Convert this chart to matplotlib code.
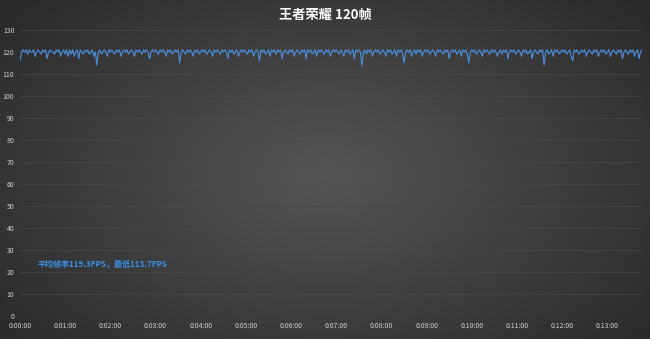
import numpy as np
import matplotlib.pyplot as plt

plt.rcParams['font.family'] = ['Noto Sans CJK SC', 'DejaVu Sans']

title = "王者荣耀 120帧"
note = "平均帧率119.3FPS，最低113.7FPS"

# fps samples, one every 2 seconds, grouped per minute
m0 = [116, 120, 121, 120, 121, 119, 121, 120, 120, 121, 118, 120, 121, 120, 119, 121, 120, 121, 117, 120, 121, 120, 120, 119, 121, 120, 121, 118, 120, 121]
m1 = [119, 121, 118, 121, 119, 121, 118, 120, 121, 117, 121, 120, 119, 121, 120, 121, 119, 120, 121, 118, 120, 114, 120, 121, 119, 120, 121, 120, 118, 121]
m2 = [120, 121, 120, 119, 121, 120, 121, 118, 120, 121, 120, 121, 119, 120, 121, 120, 118, 121, 120, 121, 120, 119, 121, 120, 121, 120, 117, 120, 121, 120]
m3 = [121, 120, 119, 121, 120, 121, 120, 118, 121, 120, 121, 119, 120, 121, 120, 121, 115, 120, 121, 120, 119, 121, 120, 121, 120, 118, 121, 120, 121, 119]
m4 = [120, 121, 120, 121, 119, 120, 121, 120, 118, 121, 120, 121, 120, 119, 121, 120, 121, 120, 117, 121, 120, 121, 119, 120, 121, 118, 120, 121, 120, 121]
m5 = [120, 119, 121, 120, 121, 118, 120, 121, 120, 116, 121, 120, 121, 119, 120, 121, 118, 121, 120, 121, 119, 121, 120, 121, 117, 120, 121, 120, 119, 121]
m6 = [120, 121, 118, 120, 121, 120, 119, 121, 120, 121, 117, 121, 120, 121, 119, 120, 121, 118, 121, 120, 121, 120, 119, 121, 120, 121, 118, 120, 121, 120]
m7 = [121, 120, 119, 121, 120, 118, 121, 120, 121, 119, 120, 121, 117, 121, 120, 121, 120, 113.7, 120, 121, 119, 121, 120, 121, 118, 120, 121, 120, 121, 119]
m8 = [120, 121, 120, 118, 121, 120, 121, 119, 120, 121, 118, 121, 120, 121, 119, 115, 120, 121, 120, 121, 118, 120, 121, 119, 121, 120, 121, 118, 120, 121]
m9 = [120, 121, 119, 120, 121, 120, 118, 121, 120, 121, 120, 119, 121, 120, 121, 117, 120, 121, 120, 121, 119, 120, 121, 118, 121, 120, 121, 119, 115, 120]
m10 = [121, 120, 121, 119, 120, 121, 120, 118, 121, 120, 121, 120, 119, 121, 120, 121, 120, 118, 120, 121, 119, 121, 120, 121, 117, 120, 121, 120, 121, 119]
m11 = [120, 121, 120, 118, 121, 120, 121, 119, 120, 121, 117, 120, 121, 120, 119, 121, 120, 121, 114, 120, 121, 119, 120, 121, 118, 121, 120, 121, 119, 120]
m12 = [121, 120, 121, 119, 120, 121, 118, 116, 121, 120, 121, 119, 120, 121, 120, 121, 118, 120, 121, 120, 119, 121, 120, 121, 118, 120, 121, 120, 121, 119]
m13 = [120, 121, 118, 120, 121, 120, 119, 121, 120, 121, 117, 120, 121, 120, 119, 121, 120, 121, 118, 120, 121, 117, 120, 121]

fps = np.array(m0 + m1 + m2 + m3 + m4 + m5 + m6 + m7 + m8 + m9 + m10 + m11 + m12 + m13)
t = np.arange(len(fps)) * 2

minutes = list(range(14))
tick_labels = ["0:%02d:00" % m for m in minutes]

fig = plt.figure(figsize=(6.5, 3.39), dpi=100)

# radial dark background
bg = fig.add_axes([0, 0, 1, 1], zorder=-1)
yy, xx = np.mgrid[0:339, 0:650]
r = np.sqrt(((xx - 325) / 420.0) ** 2 + ((yy - 175) / 260.0) ** 2)
bg.imshow(np.clip(r, 0, 1), cmap=plt.cm.colors.LinearSegmentedColormap.from_list(
    "bg", ["#555555", "#2a2a2a"]), aspect="auto", vmin=0, vmax=1)
bg.axis("off")

ax = fig.add_axes([20 / 650, 23 / 339, 622 / 650, 286 / 339])
ax.set_facecolor("none")
ax.plot(t, fps, color="#4a8fdc", lw=0.8)

ax.set_ylim(0, 130)
ax.set_xlim(0, 826)
ax.set_yticks(range(0, 131, 10))
ax.set_xticks([m * 60 for m in minutes])
ax.set_xticklabels(tick_labels)
ax.tick_params(colors="#cfcfcf", labelsize=5, length=0, pad=4)
ax.grid(axis="y", color="#4a4a4a", lw=0.5)
for s in ax.spines.values():
    s.set_visible(False)

ax.text(24, 23.6, note, color="#3a8fe8", fontsize=5.8, fontweight="bold", va="center")
fig.text(0.5, 0.955, title, color="white", fontsize=9.5, fontweight="bold", ha="center", va="center")

fig.savefig("out.png", dpi=100)
